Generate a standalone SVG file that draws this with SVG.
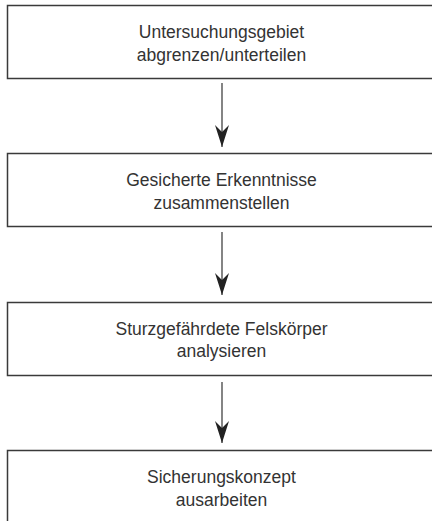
<svg xmlns="http://www.w3.org/2000/svg" width="432" height="521" viewBox="0 0 432 521">
<style>
.box{fill:#fff;stroke:#3a3a3a;stroke-width:1.5}
.lbl{font-family:"Liberation Sans",Arial,sans-serif;font-size:17.5px;fill:#333;text-anchor:middle}
.con{stroke:#333;stroke-width:1.2;fill:none}
</style>
<defs>
<marker id="arr" markerUnits="userSpaceOnUse" viewBox="0 0 22 14" refX="22" refY="7" markerWidth="22" markerHeight="14" orient="auto">
<path d="M0,0 L22,7 L0,14 L7,7 z" fill="#222"/>
</marker>
</defs>
<rect width="432" height="521" fill="#fff"/>
<g id="n1">
<rect class="box" x="7.5" y="5.5" width="430" height="73"/>
<text class="lbl" x="221.5" y="37.5">Untersuchungsgebiet</text>
<text class="lbl" x="221.5" y="60.5">abgrenzen/unterteilen</text>
</g>
<g id="n2">
<rect class="box" x="7.5" y="153.5" width="430" height="73"/>
<text class="lbl" x="221.5" y="185.5">Gesicherte Erkenntnisse</text>
<text class="lbl" x="221.5" y="208.5">zusammenstellen</text>
</g>
<g id="n3">
<rect class="box" x="7.5" y="302.5" width="430" height="73"/>
<text class="lbl" x="221.5" y="334.5">Sturzgefährdete Felskörper</text>
<text class="lbl" x="221.5" y="357">analysieren</text>
</g>
<g id="n4">
<rect class="box" x="7.5" y="450.5" width="430" height="80"/>
<text class="lbl" x="221.5" y="482.5">Sicherungskonzept</text>
<text class="lbl" x="221.5" y="505.5">ausarbeiten</text>
</g>
<g id="connectors">
<line class="con" x1="222" y1="83" x2="222" y2="147" marker-end="url(#arr)"/>
<line class="con" x1="222" y1="232" x2="222" y2="295" marker-end="url(#arr)"/>
<line class="con" x1="222" y1="382" x2="222" y2="443" marker-end="url(#arr)"/>
</g>
</svg>
